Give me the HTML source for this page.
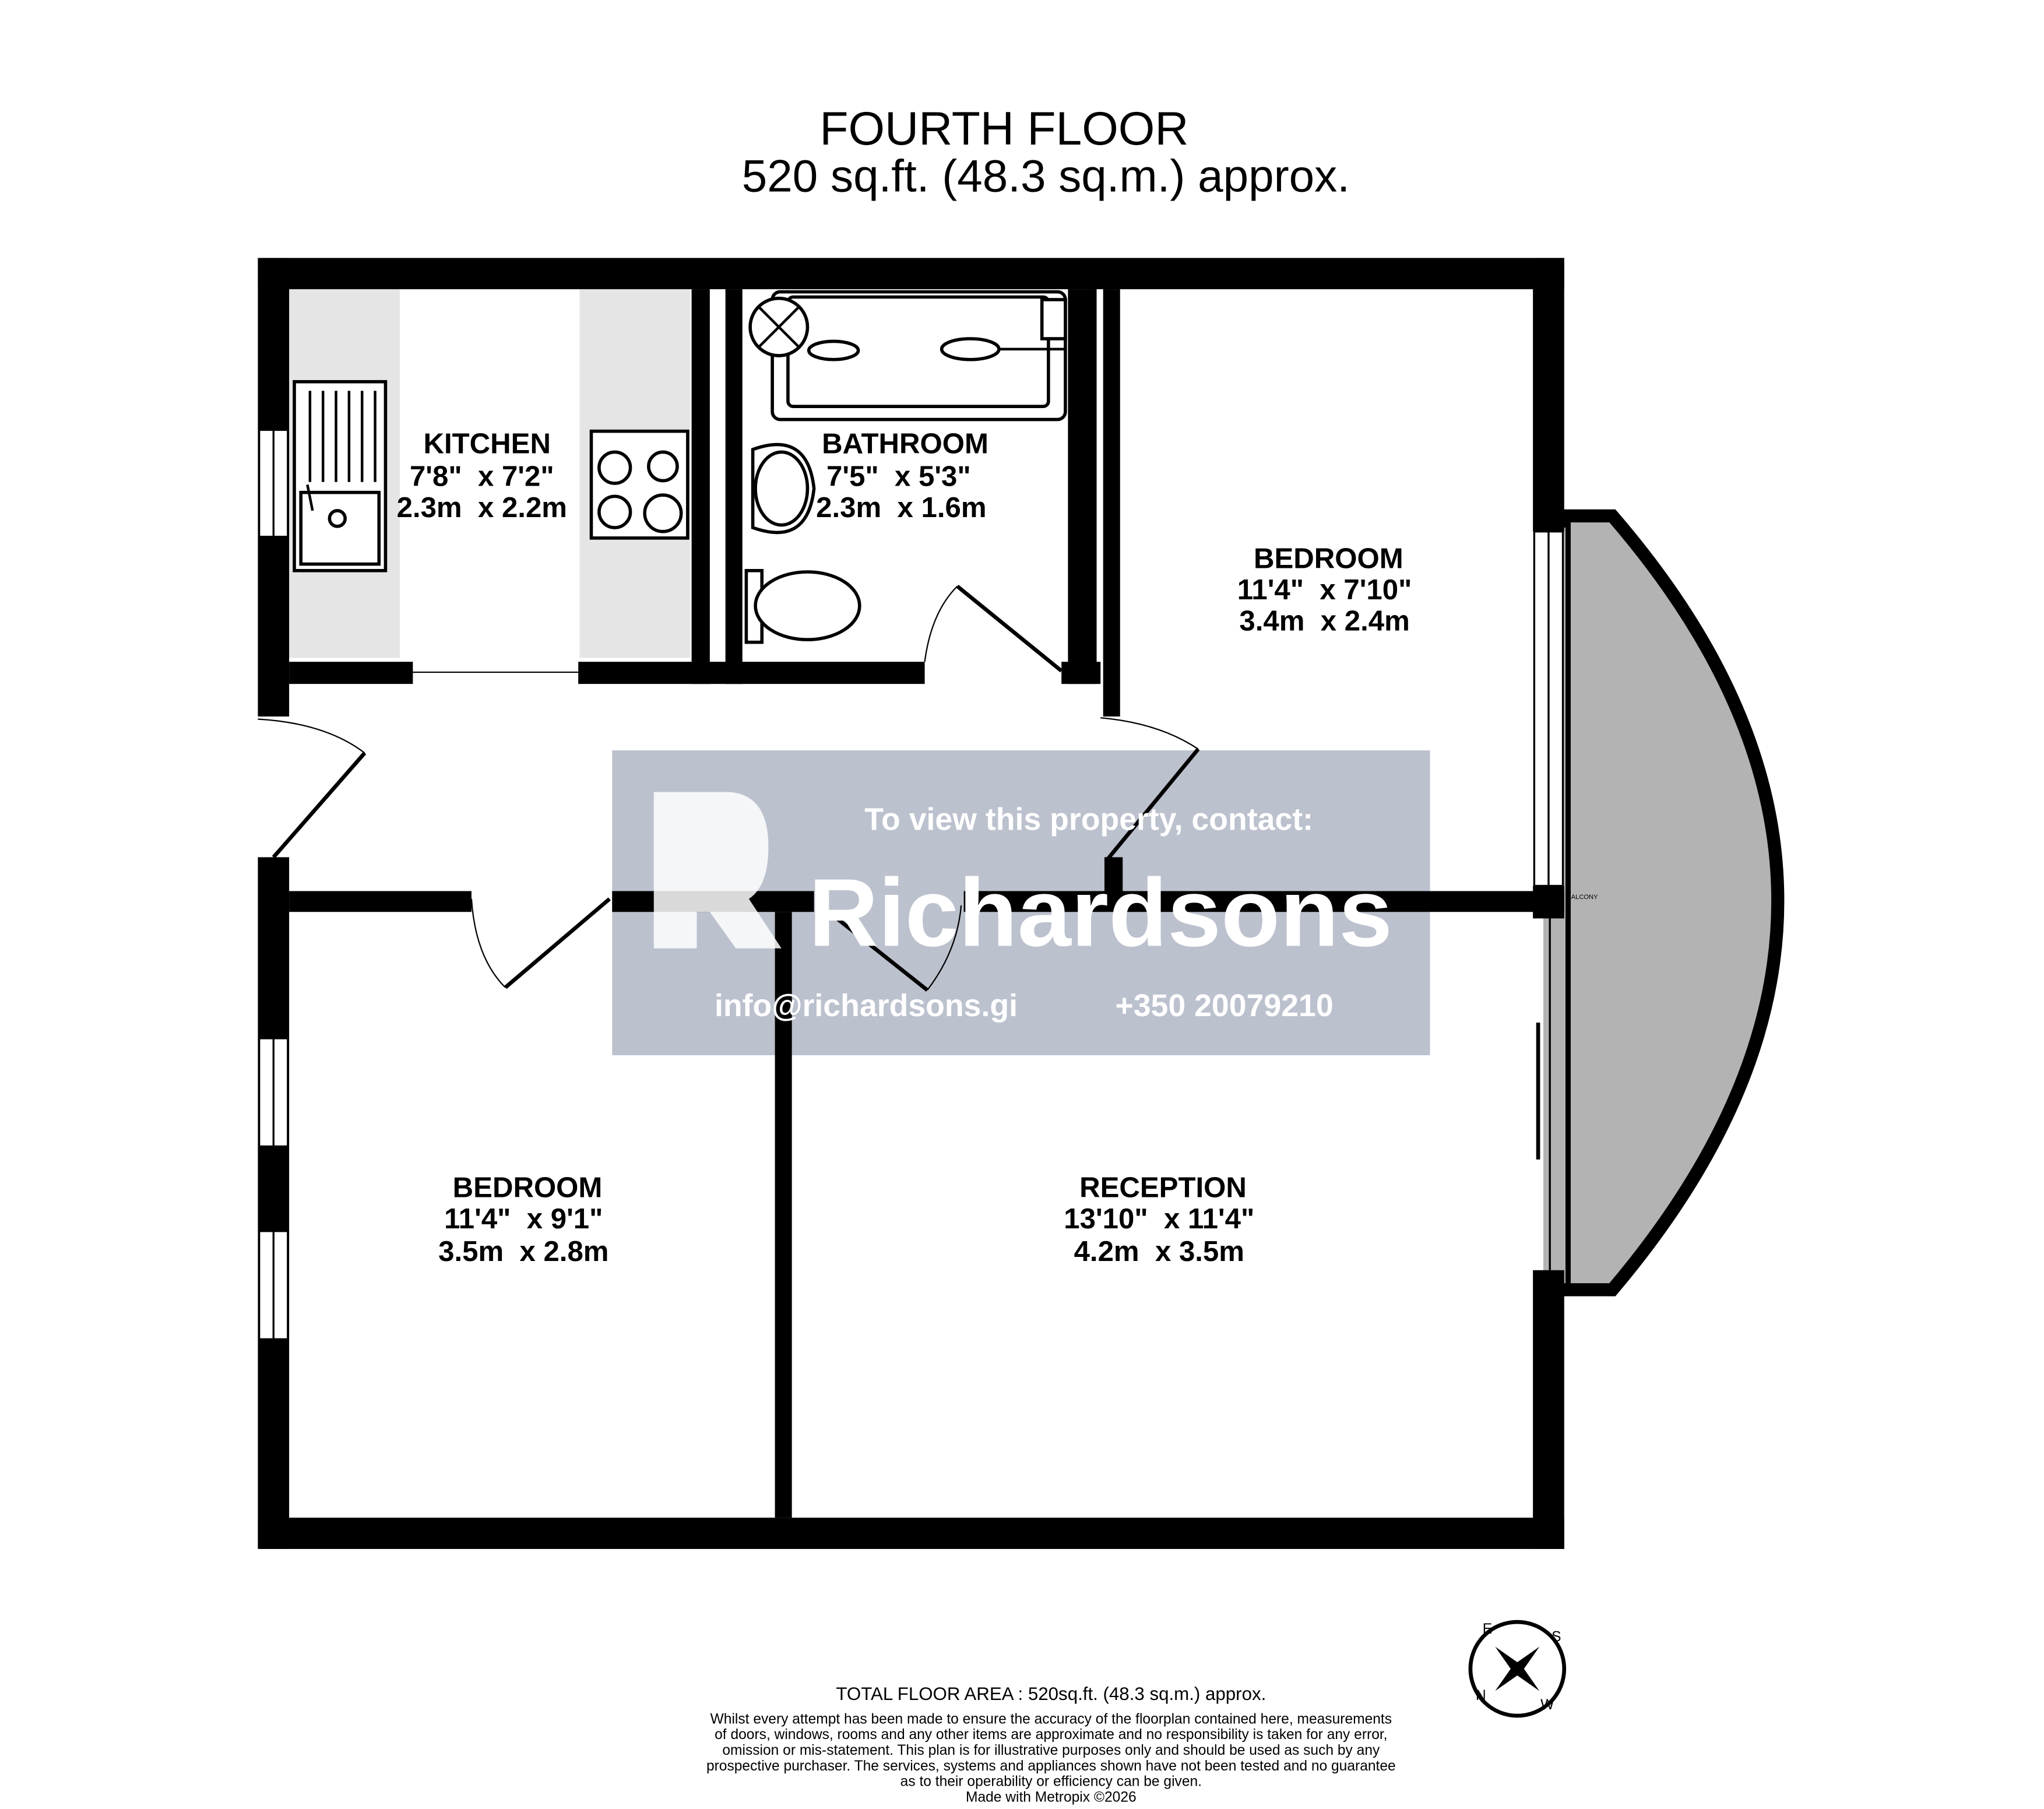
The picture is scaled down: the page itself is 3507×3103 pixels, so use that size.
<!DOCTYPE html>
<html><head><meta charset="utf-8"><style>html,body{margin:0;padding:0;background:#fff}svg{display:block}</style></head><body>
<svg width="3507" height="3103" viewBox="0 0 1569.4 1388.6" preserveAspectRatio="none" xmlns="http://www.w3.org/2000/svg" font-family="Liberation Sans, Arial, sans-serif">
<rect width="1570" height="1390" fill="#fff"/>
<text x="771" y="111" font-size="36" text-anchor="middle">FOURTH FLOOR</text>
<text x="803" y="147" font-size="35" text-anchor="middle">520 sq.ft. (48.3 sq.m.) approx.</text>
<path d="M1201,396 L1238,396 Q1492,690 1238,990 L1201,990 Z" fill="#b3b3b3" stroke="#000" stroke-width="10"/>
<rect x="1185" y="405" width="17" height="580" fill="#b3b3b3"/>
<rect x="222" y="222" width="85" height="283" fill="#e5e5e5"/>
<rect x="445" y="222" width="85" height="283" fill="#e5e5e5"/>
<rect x="470" y="576" width="628" height="234" fill="#bcc1ce"/>
<g fill="#000">
<rect x="198" y="198" width="1003" height="24"/>
<rect x="198" y="1165" width="1003" height="24"/>
<rect x="198" y="198" width="24" height="352"/>
<rect x="198" y="658" width="24" height="531"/>
<rect x="1177" y="198" width="24" height="210"/>
<rect x="1177" y="680" width="24" height="25"/>
<rect x="1177" y="975" width="24" height="214"/>
<rect x="531" y="222" width="14" height="303"/>
<rect x="557" y="222" width="13" height="303"/>
<rect x="820" y="222" width="22" height="303"/>
<rect x="847" y="222" width="13" height="328"/>
<rect x="222" y="508" width="95" height="17"/>
<rect x="444" y="508" width="116" height="17"/>
<rect x="560" y="508" width="150" height="17"/>
<rect x="815" y="508" width="30" height="17"/>
<rect x="222" y="684" width="140" height="16"/>
<rect x="470" y="684" width="155" height="16"/>
<rect x="740" y="684" width="461" height="16"/>
<rect x="848" y="658" width="14" height="30"/>
<rect x="595" y="700" width="13" height="465"/>
</g>
<g fill="#fff" stroke="#000" stroke-width="1.5">
<rect x="199" y="330" width="22" height="82"/>
<rect x="199" y="797" width="22" height="83"/>
<rect x="199" y="945" width="22" height="83"/>
<rect x="1178" y="408" width="22" height="272"/>
</g>
<g stroke="#000" stroke-width="1.5">
<line x1="210" y1="330" x2="210" y2="412"/><line x1="210" y1="797" x2="210" y2="880"/><line x1="210" y1="945" x2="210" y2="1028"/>
<line x1="1189" y1="408" x2="1189" y2="680"/>
<line x1="1190" y1="705" x2="1190" y2="975"/>
<line x1="1181" y1="785" x2="1181" y2="890" stroke-width="3"/>
<line x1="317" y1="516" x2="444" y2="516" stroke-width="1"/>
</g>
<g fill="none" stroke="#000">
<line x1="210" y1="658" x2="280" y2="578" stroke-width="3"/>
<path d="M198,552 Q250,555 280,578" stroke-width="1"/>
<line x1="735" y1="450" x2="815" y2="515" stroke-width="3"/>
<path d="M710,508 Q715,470 735,450" stroke-width="1"/>
<line x1="850" y1="660" x2="920" y2="575" stroke-width="3"/>
<path d="M845,551 Q890,555 920,575" stroke-width="1"/>
<line x1="388" y1="758" x2="468" y2="690" stroke-width="3"/>
<path d="M362,690 Q365,735 388,758" stroke-width="1"/>
<line x1="630" y1="695" x2="712" y2="760" stroke-width="3"/>
<path d="M712,760 Q735,730 738,695" stroke-width="1"/>
</g>
<g fill="#fff" stroke="#000" stroke-width="2.5">
<rect x="226" y="293" width="70" height="145"/>
<rect x="231" y="378" width="60" height="55"/>
<circle cx="259" cy="398" r="6"/>
<rect x="454" y="331" width="74" height="82"/>
<circle cx="472" cy="359" r="12"/><circle cx="509" cy="358" r="11"/>
<circle cx="472" cy="393" r="12"/><circle cx="509" cy="394" r="14"/>
<rect x="593" y="224" width="225" height="98" rx="6"/>
<rect x="605" y="228" width="200" height="84" rx="4"/>
<circle cx="598" cy="251" r="22"/>
<ellipse cx="640" cy="269" rx="19" ry="7"/>
<ellipse cx="745" cy="268" rx="22" ry="8"/>
<rect x="800" y="230" width="18" height="30"/>
<path d="M578,345 Q620,330 625,375 Q620,420 578,405 Z"/>
<ellipse cx="600" cy="375" rx="20" ry="28"/>
<rect x="573" y="438" width="12" height="55"/>
<ellipse cx="620" cy="465" rx="40" ry="26"/>
</g>
<g stroke="#000" stroke-width="2">
<line x1="583" y1="236" x2="613" y2="266"/><line x1="613" y1="236" x2="583" y2="266"/>
<line x1="767" y1="268" x2="818" y2="268"/>
<line x1="238" y1="300" x2="238" y2="370"/><line x1="248" y1="300" x2="248" y2="370"/><line x1="258" y1="300" x2="258" y2="370"/><line x1="268" y1="300" x2="268" y2="370"/><line x1="278" y1="300" x2="278" y2="370"/><line x1="288" y1="300" x2="288" y2="370"/>
<line x1="236" y1="372" x2="240" y2="392"/>
</g>
<g fill="#fff">
<text x="836" y="637" font-size="24" font-weight="bold" text-anchor="middle">To view this property, contact:</text>
<text x="845" y="726" font-size="74" font-weight="bold" text-anchor="middle">Richardsons</text>
<text x="665" y="780" font-size="24" font-weight="bold" text-anchor="middle">info@richardsons.gi</text>
<text x="940" y="780" font-size="24" font-weight="bold" text-anchor="middle">+350 20079210</text>
<path d="M502,608 L560,608 Q590,610 590,650 Q590,680 575,690 L600,728 L565,728 L545,700 L535,700 L535,728 L502,728 Z" fill-opacity="0.85"/>
</g>
<g font-size="22" font-weight="bold" text-anchor="middle">
<text x="374" y="348">KITCHEN</text><text x="370" y="373">7'8"&#160; x 7'2"</text><text x="370" y="397">2.3m&#160; x 2.2m</text>
<text x="695" y="348">BATHROOM</text><text x="690" y="373">7'5"&#160; x 5'3"</text><text x="692" y="397">2.3m&#160; x 1.6m</text>
<text x="1020" y="436">BEDROOM</text><text x="1017" y="460">11'4"&#160; x 7'10"</text><text x="1017" y="484">3.4m&#160; x 2.4m</text>
<text x="405" y="919">BEDROOM</text><text x="402" y="943">11'4"&#160; x 9'1"</text><text x="402" y="968">3.5m&#160; x 2.8m</text>
<text x="893" y="919">RECEPTION</text><text x="890" y="943">13'10"&#160; x 11'4"</text><text x="890" y="968">4.2m&#160; x 3.5m</text>
</g>
<text x="1203" y="690" font-size="5">BALCONY</text>
<circle cx="1165" cy="1281" r="36" fill="none" stroke="#000" stroke-width="3"/>
<path d="M1182,1264 L1168,1284 L1148,1298 L1162,1278 Z" fill="#000"/>
<path d="M1148,1264 L1168,1278 L1182,1298 L1162,1284 Z" fill="#000"/>
<g font-size="11" text-anchor="middle">
<text x="1195" y="1260">S</text><text x="1142" y="1254">E</text><text x="1137" y="1305">N</text><text x="1188" y="1312">W</text>
</g>
<text x="807" y="1305" font-size="14" text-anchor="middle">TOTAL FLOOR AREA : 520sq.ft. (48.3 sq.m.) approx.</text>
<g font-size="11" text-anchor="middle">
<text x="807" y="1323">Whilst every attempt has been made to ensure the accuracy of the floorplan contained here, measurements</text>
<text x="807" y="1335">of doors, windows, rooms and any other items are approximate and no responsibility is taken for any error,</text>
<text x="807" y="1347">omission or mis-statement. This plan is for illustrative purposes only and should be used as such by any</text>
<text x="807" y="1359">prospective purchaser. The services, systems and appliances shown have not been tested and no guarantee</text>
<text x="807" y="1371">as to their operability or efficiency can be given.</text>
<text x="807" y="1383">Made with Metropix ©2026</text>
</g>
</svg>
</body></html>
